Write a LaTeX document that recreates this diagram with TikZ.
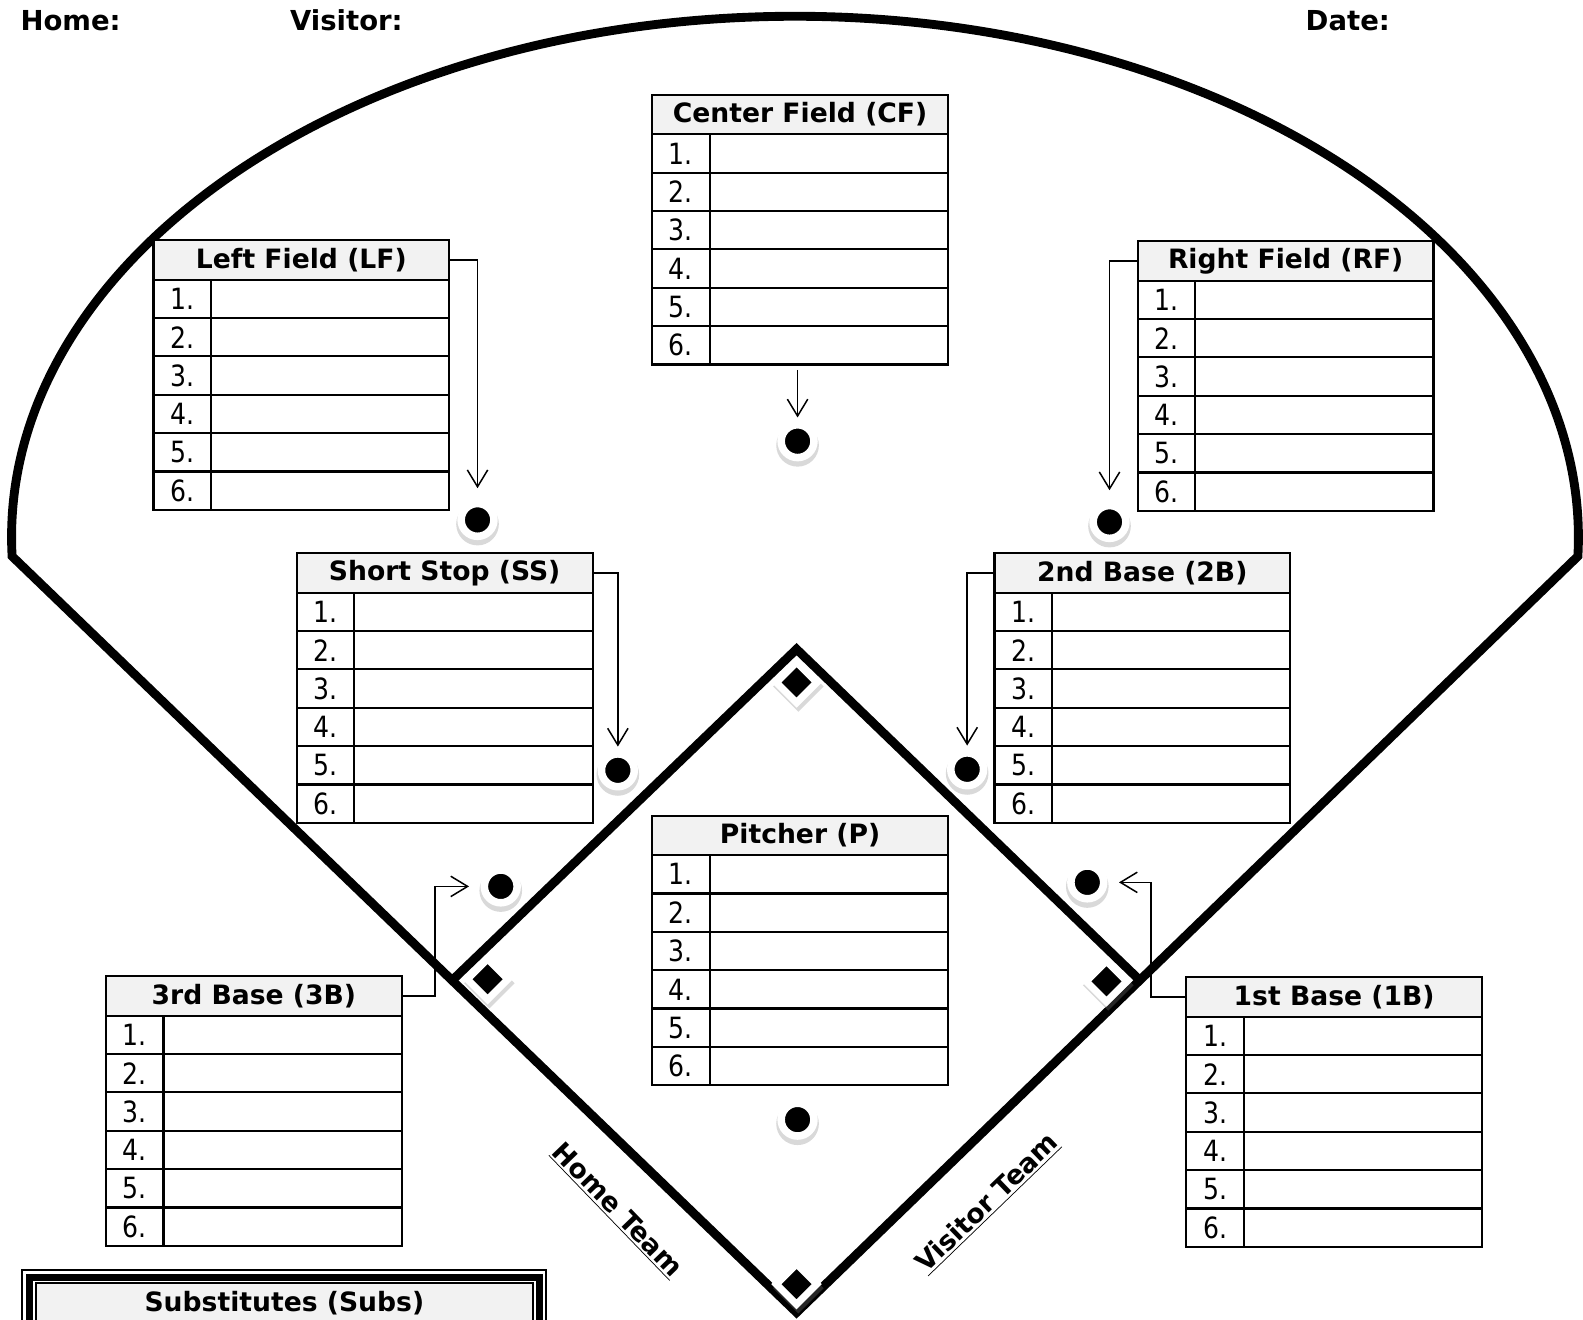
\documentclass[tikz,border=0pt]{standalone}
\usepackage{fontspec}
\setmainfont{DejaVu Sans}
\newfontfamily\numfont[FakeStretch=0.86]{DejaVu Sans}
\usepackage{tikz}
\usetikzlibrary{arrows.meta, positioning, shapes.geometric, shadows}
\definecolor{headgray}{RGB}{242, 242, 242}
\tikzset{
    fieldline/.style={
        line width=5pt,
        draw=black
    },
    headcell/.style={
        rectangle,
        draw=black,
        fill=headgray,
        line width=1.2pt,
        minimum width=5.86cm,
        minimum height=0.78cm,
        inner sep=0pt,
        outer sep=0pt,
        font=\fontsize{15}{18}\selectfont\bfseries
    },
    numcell/.style={
        rectangle,
        draw=black,
        line width=1.2pt,
        minimum width=1.14cm,
        minimum height=0.76cm,
        inner sep=0pt,
        outer sep=0pt,
        font=\numfont\fontsize{16.5}{19}\selectfont
    },
    namecell/.style={
        rectangle,
        draw=black,
        line width=1.2pt,
        minimum width=4.72cm,
        minimum height=0.76cm,
        inner sep=0pt,
        outer sep=0pt
    },
    posdot/.style={
        circle,
        fill=black,
        draw=white,
        line width=4.25pt,
        minimum size=0.65cm,
        inner sep=0pt,
        drop shadow={shadow scale=1.3, shadow xshift=0pt, shadow yshift=-1.8pt, opacity=0.3}
    },
    basemark/.style={
        diamond,
        aspect=1,
        fill=black,
        draw=white,
        line width=4pt,
        minimum width=0.86cm,
        minimum height=0.86cm,
        inner sep=0pt,
        drop shadow={shadow scale=1.25, shadow xshift=0.8pt, shadow yshift=-1.8pt, opacity=0.3}
    },
    link/.style={
        -{Straight Barb[length=9.5pt, width=11.5pt]},
        line width=0.85pt,
        shorten >=2pt
    },
    toplabel/.style={
        anchor=base west,
        inner sep=0pt,
        font=\fontsize{15.5}{18}\selectfont\bfseries
    },
    teamlabel/.style={
        inner sep=0pt,
        font=\fontsize{15}{18}\selectfont\bfseries
    },
    postable/.pic={
        \node[headcell, anchor=north west] (-head) at (0,0) {#1};
        \foreach \i in {1,...,6}{
            \node[numcell, anchor=north west] (-n\i) at (0,{39+(\i-1)*38}) {\i.};
            \node[namecell, anchor=north west] (-r\i) at (57,{39+(\i-1)*38}) {};
        }
    }
}

\begin{document}
\begin{tikzpicture}[x=0.02cm, y=-0.02cm]
    \useasboundingbox (0,0) rectangle (1568,1307);

    % field
    \coordinate (lfpole) at (12,551);
    \coordinate (home) at (789,1300);
    \coordinate (second) at (789,643);
    \coordinate (third) at (448,971);
    \coordinate (first) at (1129,971);
    \draw[fieldline] (home) -- (lfpole) arc[start angle=177.9, end angle=362.1, x radius=776, y radius=516] -- cycle;
    \draw[fieldline] (third) -- (second) -- (first);

    % header
    \node[toplabel] (homelbl) at (20,30) {Home:};
    \node[toplabel] (visitorlbl) at (287,30) {Visitor:};
    \node[toplabel] (datelbl) at (1293,30) {Date:};

    % position tables
    \pic (cf) at (646,94) {postable={Center Field (CF)}};
    \pic (lf) at (152,238) {postable={Left Field (LF)}};
    \pic (rf) at (1127,239) {postable={Right Field (RF)}};
    \pic (ss) at (294,548) {postable={Short Stop (SS)}};
    \pic (secb) at (985,548) {postable={2nd Base (2B)}};
    \pic (pit) at (646,808) {postable={Pitcher (P)}};
    \pic (thirdb) at (105,967) {postable={3rd Base (3B)}};
    \pic (firstb) at (1175,968) {postable={1st Base (1B)}};

    % bases
    \node[basemark] (base2) at (789,676) {};
    \node[basemark] (base3) at (483,970) {};
    \node[basemark] (base1) at (1096,972) {};
    \node[basemark] (basehome) at (789,1272) {};

    % players
    \node[posdot] (cfdot) at (790,437) {};
    \node[posdot] (lfdot) at (473,515) {};
    \node[posdot] (rfdot) at (1099,517) {};
    \node[posdot] (ssdot) at (612,763) {};
    \node[posdot] (secbdot) at (958,762) {};
    \node[posdot] (thirdbdot) at (496,878) {};
    \node[posdot] (firstbdot) at (1077,874) {};
    \node[posdot] (pitdot) at (790,1109) {};

    \draw[link, shorten <=3pt] (cfdot |- cf-n6.south) -- (cfdot.north);
    \draw[link, shorten >=6.5pt] (lf-head.east) -| (lfdot.north);
    \draw[link, shorten >=6.5pt] (rf-head.west) -| (rfdot.north);
    \draw[link] (ss-head.east) -| (ssdot.north);
    \draw[link] (secb-head.west) -| (secbdot.north);
    \draw[link, shorten >=6.5pt] (thirdb-head.east) -- ++(33,0) |- (thirdbdot.west);
    \draw[link, shorten >=6.5pt] (firstb-head.west) -- ++(-35,0) |- (firstbdot.east);

    \node[teamlabel, rotate=-46] (hometeam) at (611,1199) {\underline{Home Team}};
    \node[teamlabel, rotate=44] (visitorteam) at (978,1192) {\underline{Visitor Team}};

    % substitutes
    \draw[line width=1.2pt] (22,1258) rectangle (541,1340);
    \draw[line width=4pt] (29,1265) rectangle (534,1340);
    \node[headcell, anchor=north west, minimum width=9.85cm] (subs) at (35.5,1271) {Substitutes (Subs)};
\end{tikzpicture}
\end{document}
